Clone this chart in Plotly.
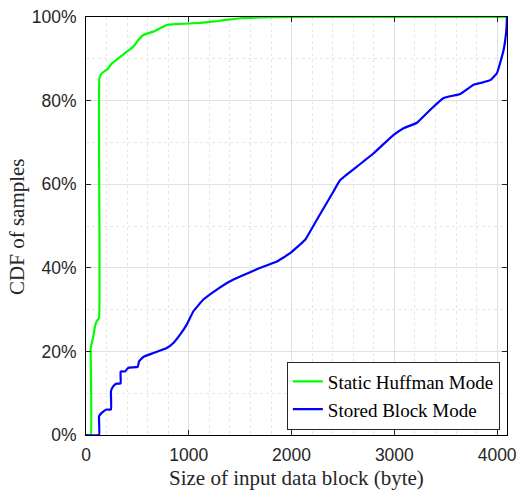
import plotly.graph_objects as go

huff_x = [0, 46, 46, 71, 88, 104, 127, 130, 153, 217, 250, 315, 396, 461, 509, 558, 655, 786, 883, 1110, 1305, 1500, 1694, 2000, 4096]
huff_y = [0, 0, 20.8, 23.6, 26.0, 27.2, 28.0, 85.3, 86.5, 87.7, 88.9, 90.1, 91.7, 92.9, 94.5, 95.7, 96.5, 98.1, 98.3, 98.6, 99.1, 99.7, 99.9, 100, 100]

stored_x = [0, 127, 127, 153, 201, 243, 243, 266, 298, 337, 337, 380, 412, 503, 516, 558, 655, 786, 850, 915, 980, 1045, 1142, 1273, 1402, 1500, 1694, 1857, 1986, 2132, 2246, 2392, 2473, 2636, 2798, 2993, 3090, 3220, 3350, 3479, 3642, 3771, 3836, 3934, 3999, 4063, 4090, 4096]
stored_y = [0, 0, 4.5, 5.3, 6.1, 6.1, 10.5, 11.7, 12.3, 12.3, 15.2, 15.2, 16.1, 16.3, 17.6, 18.7, 19.6, 20.8, 22.0, 24.0, 26.4, 29.6, 32.4, 34.8, 36.8, 37.9, 40.0, 41.5, 43.5, 46.7, 51.5, 57.6, 61.0, 64.2, 67.4, 71.8, 73.4, 74.7, 77.8, 80.6, 81.6, 83.8, 84.2, 84.9, 86.6, 92.1, 96.9, 100]

x_ticks = [0, 1000, 2000, 3000, 4000]
y_ticks = [0, 20, 40, 60, 80, 100]
y_tick_labels = ["0%", "20%", "40%", "60%", "80%", "100%"]

fig = go.Figure()
fig.add_trace(go.Scatter(x=huff_x, y=huff_y, mode="lines", name="Static Huffman Mode",
                         line=dict(color="#00ff00", width=2.2, shape="spline", smoothing=0.3)))
fig.add_trace(go.Scatter(x=stored_x, y=stored_y, mode="lines", name="Stored Block Mode",
                         line=dict(color="#0000ff", width=2.2, shape="spline", smoothing=0.3)))

axis_common = dict(
    showline=True, linecolor="black", linewidth=1, mirror="ticks",
    ticks="inside", ticklen=5, tickcolor="#262626",
    showgrid=True, gridcolor="#e1e1e1", gridwidth=1,
    zeroline=False, automargin=False,
    tickfont=dict(family="Liberation Sans, Arial", size=17.5, color="#262626"),
)

title_font = dict(family="Liberation Serif, Times New Roman", size=21, color="#262626")

fig.update_xaxes(range=[0, 4096], tickvals=x_ticks, ticklabelstandoff=4,
                 minor=dict(dtick=200, tick0=0, showgrid=True, gridcolor="#e6e6e6", griddash="dot", ticks=""),
                 **axis_common)
fig.update_yaxes(range=[0, 100], tickvals=y_ticks, ticktext=y_tick_labels, ticklabelstandoff=5,
                 minor=dict(dtick=10, tick0=0, showgrid=True, gridcolor="#e6e6e6", griddash="dot", ticks=""),
                 **axis_common)

fig.add_annotation(text="Size of input data block (byte)", xref="paper", yref="paper", x=0.5, y=-0.103,
                   xanchor="center", yanchor="middle", showarrow=False, font=title_font)
fig.add_annotation(text="CDF of samples", xref="paper", yref="paper", x=-0.164, y=0.5,
                   xanchor="center", yanchor="middle", textangle=-90, showarrow=False,
                   font=title_font)

fig.update_layout(
    width=519, height=491,
    margin=dict(l=86, r=12, t=17, b=55.5),
    plot_bgcolor="white", paper_bgcolor="white",
    legend=dict(x=0.983, y=0.013, xanchor="right", yanchor="bottom",
                bgcolor="white", bordercolor="#262626", borderwidth=1,
                font=dict(family="Liberation Serif, Times New Roman", size=19, color="black"),
                itemwidth=30, tracegroupgap=0),
    showlegend=True,
)

fig.write_html("out.html", config={"displayModeBar": False},
               post_script="document.body.style.margin='0';")
